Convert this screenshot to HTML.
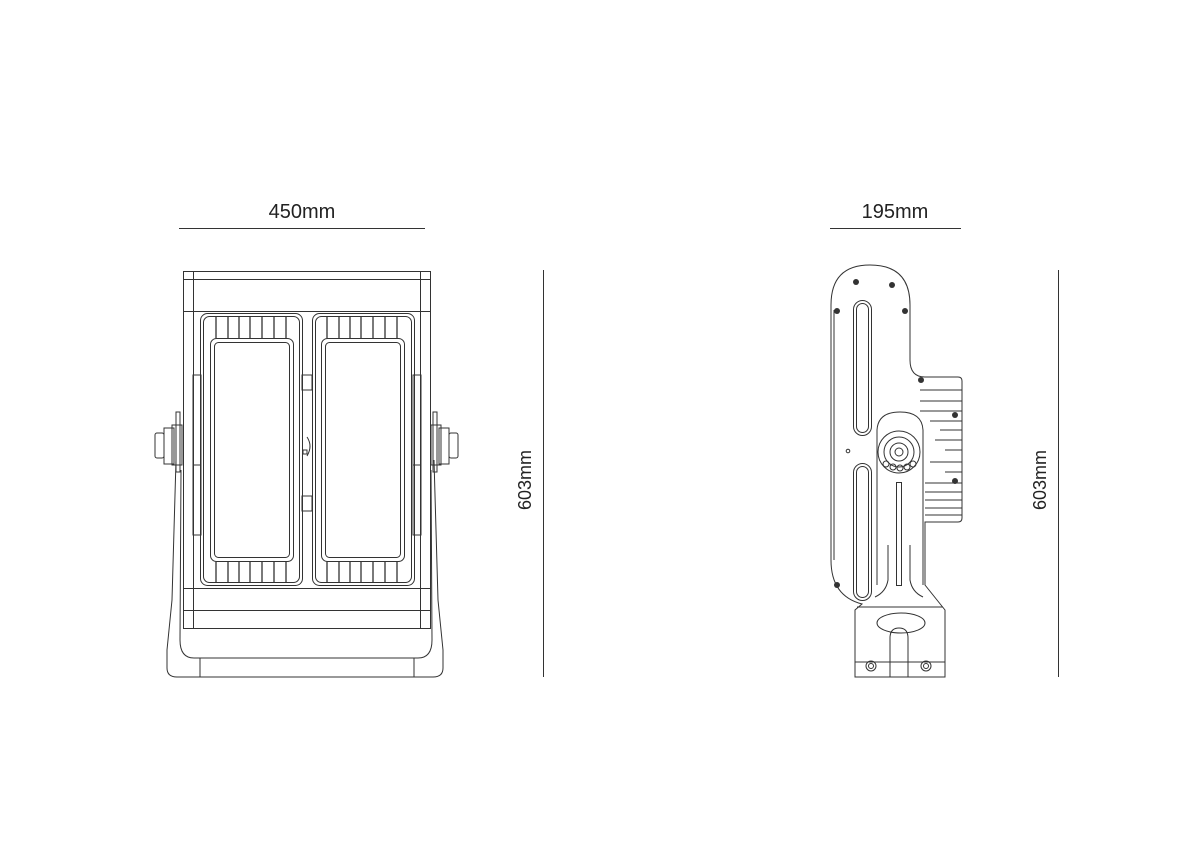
<!DOCTYPE html>
<html><head><meta charset="utf-8"><style>
html,body{margin:0;padding:0;background:#fff;}
svg{display:block;}
text{font-family:"Liberation Sans",sans-serif;fill:#222;}
</style></head><body>
<svg width="1191" height="842" viewBox="0 0 1191 842" xmlns="http://www.w3.org/2000/svg">
<g fill="none" stroke="#333" stroke-width="1">
<!-- dimension lines -->
<line x1="179" y1="228.5" x2="425" y2="228.5"/>
<line x1="830" y1="228.5" x2="961" y2="228.5"/>
<line x1="543.5" y1="270" x2="543.5" y2="677"/>
<line x1="1058.5" y1="270" x2="1058.5" y2="677"/>

<!-- FRONT VIEW -->
<!-- bracket U -->
<path d="M176 460 L172 600 L167 650 L167 668 Q167 677 177 677 L433 677 Q443 677 443 668 L443 650 L438 600 L434 460"/>
<path d="M181 470 L180 640 Q180 658 194 658 L418 658 Q432 658 432 640 L431 470"/>
<line x1="200" y1="658" x2="200" y2="677"/>
<line x1="414" y1="658" x2="414" y2="677"/>
<!-- main body -->
<rect x="183.5" y="271.5" width="247" height="357"/>
<line x1="193.5" y1="271" x2="193.5" y2="628"/>
<line x1="420.5" y1="271" x2="420.5" y2="628"/>
<line x1="183" y1="279.5" x2="430" y2="279.5"/>
<line x1="183" y1="311.5" x2="430" y2="311.5"/>
<line x1="183" y1="588.5" x2="430" y2="588.5"/>
<line x1="183" y1="610.5" x2="430" y2="610.5"/>
<!-- side fin blocks -->
<rect x="193" y="375" width="8" height="90" fill="none"/>
<rect x="193" y="465" width="8" height="70"/>
<rect x="413" y="375" width="8" height="90"/>
<rect x="413" y="465" width="8" height="70"/>
<rect x="302" y="375" width="10" height="15"/>
<rect x="302" y="496" width="10" height="15"/>
<path d="M307 437 Q313 446 307 456"/>
<rect x="303" y="450" width="4" height="4"/>
<!-- knobs -->
<rect x="155" y="433" width="9" height="25" rx="2"/>
<rect x="164" y="428" width="10" height="36"/>
<rect x="172" y="425" width="10" height="40"/>
<rect x="176" y="412" width="4" height="60"/>
<rect x="449" y="433" width="9" height="25" rx="2"/>
<rect x="439" y="428" width="10" height="36"/>
<rect x="431" y="425" width="10" height="40"/>
<rect x="433" y="412" width="4" height="60"/>
<!-- panels -->
<rect x="200.5" y="313.5" width="102" height="272" rx="7"/>
<rect x="203.5" y="316.5" width="96" height="266" rx="6"/>
<rect x="210.5" y="338.5" width="83" height="223" rx="6"/>
<rect x="214.5" y="342.5" width="75" height="215" rx="4"/>
<rect x="312.5" y="313.5" width="102" height="272" rx="7"/>
<rect x="315.5" y="316.5" width="96" height="266" rx="6"/>
<rect x="321.5" y="338.5" width="83" height="223" rx="6"/>
<rect x="325.5" y="342.5" width="75" height="215" rx="4"/>
<g stroke-width="1.3">
<path d="M216 316V338M228 316V338M239 316V338M250 316V338M262 316V338M274 316V338M286 316V338
M216 562V583M228 562V583M239 562V583M250 562V583M262 562V583M274 562V583M286 562V583
M327 316V338M339 316V338M350 316V338M361 316V338M373 316V338M385 316V338M397 316V338
M327 562V583M339 562V583M350 562V583M361 562V583M373 562V583M385 562V583M397 562V583"/>
</g>

<!-- SIDE VIEW -->
<path d="M870 265 Q910 265 910 305 L910 360 Q910 377 925 377 L958 377 Q962 377 962 381 L962 518 Q962 522 958 522 L925 522 L925 585 L945 610 L945 677 L855 677 L855 610 L862 604 Q831 596 831 560 L831 305 Q831 265 870 265 Z"/>
<line x1="834" y1="310" x2="834" y2="560"/>
<rect x="853.5" y="300.5" width="18" height="135" rx="9"/>
<rect x="856.5" y="303.5" width="12" height="129" rx="6"/>
<rect x="853.5" y="463.5" width="18" height="137" rx="9"/>
<rect x="856.5" y="466.5" width="12" height="131" rx="6"/>
<path d="M877 585 L877 430 Q878 412 900 412 Q922 412 923 430 L923 585"/>
<circle cx="899" cy="452" r="21"/>
<circle cx="899" cy="452" r="15"/>
<circle cx="899" cy="452" r="9"/>
<circle cx="899" cy="452" r="4"/>
<circle cx="886" cy="464" r="3"/><circle cx="893" cy="467" r="3"/><circle cx="900" cy="468" r="3"/><circle cx="907" cy="467" r="3"/><circle cx="913" cy="464" r="3"/>
<rect x="896.5" y="482.5" width="5" height="103"/>
<path d="M888 545 L888 580 Q886 592 875 597"/>
<path d="M910 545 L910 580 Q912 592 923 597"/>
<line x1="857" y1="607" x2="943" y2="607"/>
<ellipse cx="901" cy="623" rx="24" ry="10"/>
<path d="M890 677 L890 638 Q890 628 899 628 Q908 628 908 638 L908 677"/>
<line x1="855" y1="662" x2="945" y2="662"/>
<circle cx="871" cy="666" r="5"/><circle cx="871" cy="666" r="2.5"/>
<circle cx="926" cy="666" r="5"/><circle cx="926" cy="666" r="2.5"/>
<circle cx="848" cy="451" r="1.8"/>
<g stroke-width="1">
<path d="M920 390H962M920 401H962M920 411H962M930 421H962M940 430H962M935 440H962M945 450H962M930 462H962M945 472H962M925 483H962M925 492H962M925 500H962M925 508H962M925 515H962"/>
</g>
</g>
<g fill="#333">
<circle cx="856" cy="282" r="3"/><circle cx="892" cy="285" r="3"/><circle cx="837" cy="311" r="3"/><circle cx="905" cy="311" r="3"/>
<circle cx="921" cy="380" r="3"/><circle cx="955" cy="415" r="3"/><circle cx="955" cy="481" r="3"/><circle cx="837" cy="585" r="3"/>
</g>

<!-- labels -->
<text x="302" y="218" font-size="20" text-anchor="middle">450mm</text>
<text x="895" y="218" font-size="20" text-anchor="middle">195mm</text>
<text transform="translate(531,480) rotate(-90)" font-size="18" text-anchor="middle">603mm</text>
<text transform="translate(1046,480) rotate(-90)" font-size="18" text-anchor="middle">603mm</text>
</svg>
</body></html>
